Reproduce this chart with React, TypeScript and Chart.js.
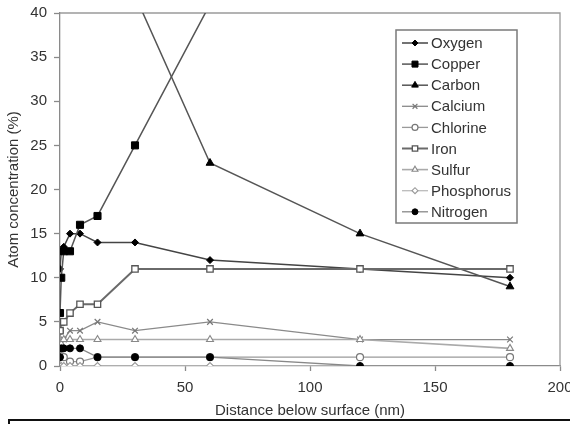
import React, { useEffect, useRef } from "react";
import { Chart, registerables } from "chart.js";
import { drawPoint } from "chart.js/helpers";

Chart.register(...registerables);

// Depth below surface (nm)
const depths = [0, 0.5, 1.5, 4, 8, 15, 30, 60, 120, 180];

// Atom concentration (%)
const oxygen = [11, 13, 13.5, 15, 15, 14, 14, 12, 11, 10];
const copper = [6, 10, 13, 13, 16, 17, 25, 41, null, null];
const carbon = [60, 58, 56, 52, 48, 45, 42, 23, 15, 9];
const calcium = [2, 3, 3, 4, 4, 5, 4, 5, 3, 3];
const chlorine = [4, 2, 1, 0.5, 0.5, 1, 1, 1, 1, 1];
const iron = [4, 5, 5, 6, 7, 7, 11, 11, 11, 11];
const sulfur = [2, 2.5, 3, 3, 3, 3, 3, 3, 3, 2];
const phosphorus = [1, 0, 0, 0, 0, 0, 0, 0, 0, 0];
const nitrogen = [1, 2, 2, 2, 2, 1, 1, 1, 0, 0];

const seriesNames = [
  "Oxygen",
  "Copper",
  "Carbon",
  "Calcium",
  "Chlorine",
  "Iron",
  "Sulfur",
  "Phosphorus",
  "Nitrogen",
];
const seriesValues = [oxygen, copper, carbon, calcium, chlorine, iron, sulfur, phosphorus, nitrogen];

const xTickValues = [0, 50, 100, 150, 200];
const yTickValues = [0, 5, 10, 15, 20, 25, 30, 35, 40];

const FONT = '"Liberation Sans", Arial, Helvetica, sans-serif';
const TEXT = "#333333";

const styles = [
  { line: "#444444", lw: 1.5, ps: "rectRot", r: 3.5, fill: "#000000", stroke: "#000000", bw: 1 },
  { line: "#555555", lw: 1.5, ps: "rect", r: 5, fill: "#000000", stroke: "#000000", bw: 1 },
  { line: "#555555", lw: 1.5, ps: "triangle", r: 4.5, fill: "#000000", stroke: "#000000", bw: 1 },
  { line: "#8a8a8a", lw: 1.3, ps: "crossRot", r: 4, fill: "#ffffff", stroke: "#777777", bw: 1.2 },
  { line: "#9a9a9a", lw: 1.3, ps: "circle", r: 3.5, fill: "#ffffff", stroke: "#777777", bw: 1.2 },
  { line: "#6a6a6a", lw: 2, ps: "rect", r: 4.5, fill: "#ffffff", stroke: "#555555", bw: 1.3 },
  { line: "#aaaaaa", lw: 1.6, ps: "triangle", r: 4, fill: "#ffffff", stroke: "#888888", bw: 1.1 },
  { line: "#bbbbbb", lw: 1.3, ps: "rectRot", r: 3.5, fill: "#ffffff", stroke: "#999999", bw: 1.1 },
  { line: "#888888", lw: 1.3, ps: "circle", r: 3.5, fill: "#000000", stroke: "#000000", bw: 1 },
];

const framePlugin = {
  id: "plotFrame",
  beforeDatasetsDraw(chart: any) {
    const { ctx, chartArea } = chart;
    ctx.save();
    ctx.strokeStyle = "#9a9a9a";
    ctx.lineWidth = 1.3;
    ctx.beginPath();
    ctx.moveTo(chartArea.left, chartArea.top);
    ctx.lineTo(chartArea.right, chartArea.top);
    ctx.lineTo(chartArea.right, chartArea.bottom);
    ctx.stroke();
    ctx.restore();
  },
};

const legendPlugin = {
  id: "boxLegend",
  afterDraw(chart: any) {
    const { ctx, chartArea } = chart;
    const bx = chartArea.right - 164;
    const by = chartArea.top + 17;
    const bw = 121;
    const bh = 193;
    ctx.save();
    ctx.fillStyle = "#ffffff";
    ctx.fillRect(bx, by, bw, bh);
    ctx.strokeStyle = "#7a7a7a";
    ctx.lineWidth = 1.5;
    ctx.strokeRect(bx, by, bw, bh);
    chart.data.datasets.forEach((ds: any, i: number) => {
      const y = by + 13 + i * 21.1;
      ctx.strokeStyle = ds.borderColor;
      ctx.lineWidth = ds.borderWidth;
      ctx.beginPath();
      ctx.moveTo(bx + 6, y);
      ctx.lineTo(bx + 32, y);
      ctx.stroke();
      ctx.fillStyle = ds.pointBackgroundColor;
      ctx.strokeStyle = ds.pointBorderColor;
      ctx.lineWidth = ds.pointBorderWidth;
      drawPoint(
        ctx,
        { pointStyle: ds.pointStyle, radius: ds.pointRadius * 0.85, rotation: 0, borderWidth: ds.pointBorderWidth } as any,
        bx + 19,
        y
      );
      ctx.fillStyle = TEXT;
      ctx.font = `15px ${FONT}`;
      ctx.textBaseline = "middle";
      ctx.textAlign = "left";
      ctx.fillText(ds.label, bx + 35, y + 1);
    });
    ctx.restore();
  },
};

export default function App() {
  const canvasRef = useRef<HTMLCanvasElement | null>(null);

  useEffect(() => {
    if (!canvasRef.current) return;
    const datasets = seriesNames.map((name, i) => {
      const s = styles[i];
      return {
        label: name,
        data: depths.map((d, j) => ({ x: d, y: seriesValues[i][j] })),
        borderColor: s.line,
        borderWidth: s.lw,
        pointStyle: s.ps,
        pointRadius: s.r,
        pointBackgroundColor: s.fill,
        pointBorderColor: s.stroke,
        pointBorderWidth: s.bw,
        fill: false,
        tension: 0,
        spanGaps: false,
        order: seriesNames.length - i,
      };
    });

    const chart = new Chart(canvasRef.current, {
      type: "line",
      data: { datasets: datasets as any },
      plugins: [framePlugin, legendPlugin],
      options: {
        responsive: false,
        animation: false,
        devicePixelRatio: 1,
        layout: { padding: { top: 13, right: 10, left: 0, bottom: 0 } },
        plugins: {
          legend: { display: false },
          tooltip: { enabled: false },
          title: { display: false },
        },
        scales: {
          x: {
            type: "linear",
            min: 0,
            max: 200,
            afterBuildTicks: (scale: any) => {
              scale.ticks = xTickValues.map((v) => ({ value: v }));
            },
            afterFit: (scale: any) => {
              scale.height = 58;
              scale.paddingLeft = 0;
              scale.paddingRight = 0;
            },
            grid: {
              display: true,
              drawOnChartArea: false,
              drawTicks: true,
              tickLength: 5,
              tickColor: "#8a8a8a",
              tickWidth: 1.3,
            },
            border: { display: true, color: "#8a8a8a", width: 1.3 },
            ticks: {
              color: TEXT,
              font: { family: FONT, size: 15 },
              padding: 8,
              maxRotation: 0,
              autoSkip: false,
            },
            title: {
              display: true,
              text: "Distance below surface (nm)",
              color: TEXT,
              font: { family: FONT, size: 15 },
              padding: { top: 0, bottom: 4 },
            },
          },
          y: {
            type: "linear",
            min: 0,
            max: 40,
            afterBuildTicks: (scale: any) => {
              scale.ticks = yTickValues.map((v) => ({ value: v }));
            },
            afterFit: (scale: any) => {
              scale.width = 60;
              scale.paddingTop = 0;
              scale.paddingBottom = 0;
            },
            grid: {
              display: true,
              drawOnChartArea: false,
              drawTicks: true,
              tickLength: 6,
              tickColor: "#8a8a8a",
              tickWidth: 1.3,
            },
            border: { display: true, color: "#8a8a8a", width: 1.3 },
            ticks: {
              color: TEXT,
              font: { family: FONT, size: 15 },
              padding: 7,
              autoSkip: false,
            },
            title: {
              display: true,
              text: "Atom concentration (%)",
              color: TEXT,
              font: { family: FONT, size: 15 },
              padding: { top: 5, bottom: 0 },
            },
          },
        },
      },
    });
    return () => chart.destroy();
  }, []);

  return (
    <div
      style={{
        position: "absolute",
        left: 0,
        top: 0,
        width: 570,
        height: 424,
        overflow: "hidden",
        background: "#ffffff",
      }}
    >
      <canvas ref={canvasRef} width={570} height={424} style={{ display: "block" }} />
      <div
        style={{
          position: "absolute",
          left: 8,
          top: 419,
          width: 620,
          height: 60,
          border: "2px solid #111111",
          boxSizing: "border-box",
        }}
      />
    </div>
  );
}
